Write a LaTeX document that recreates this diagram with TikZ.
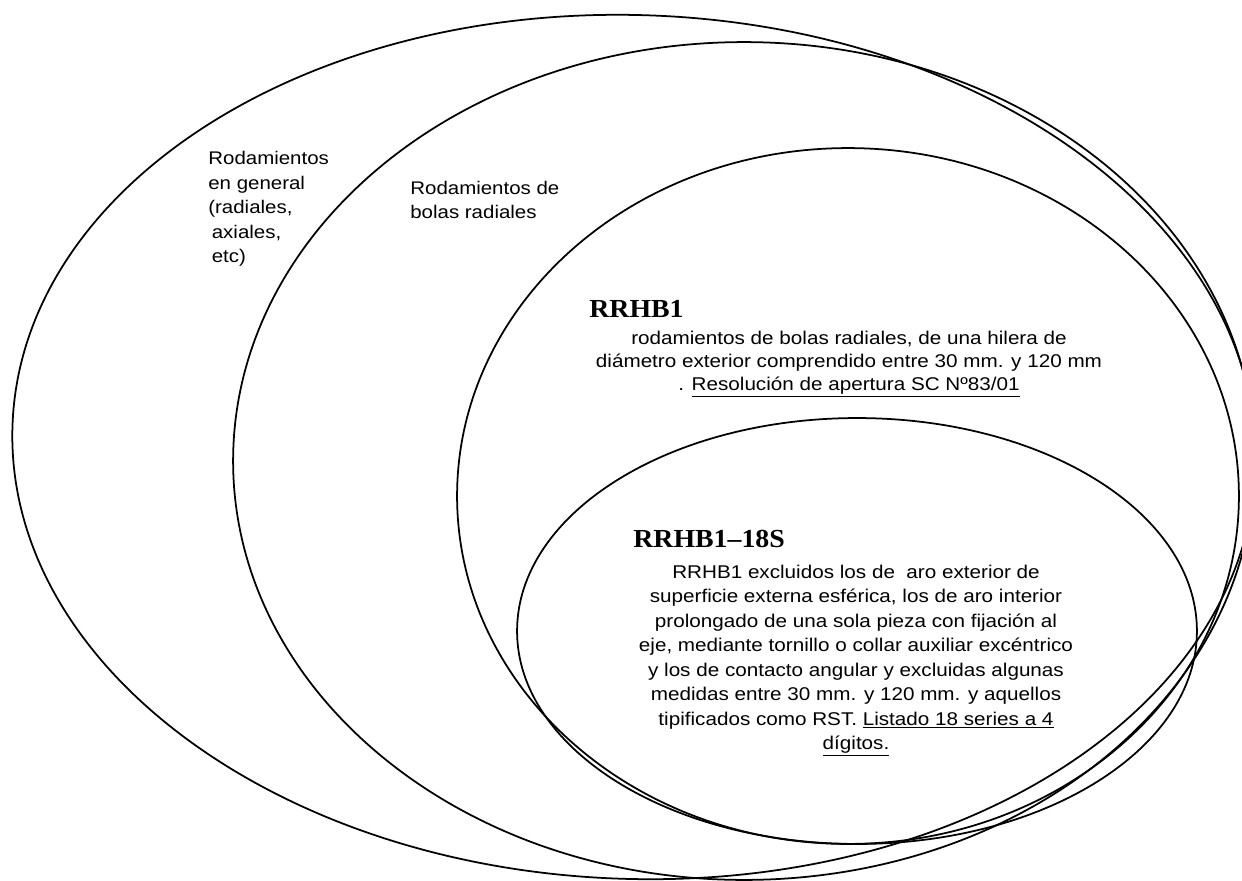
\documentclass[tikz,border=0pt]{standalone}
\usepackage{fontspec}
\setmainfont{Liberation Sans}[FakeStretch=1.12]
\newfontfamily\titlefont{Liberation Serif}[FakeStretch=1.07]
\usetikzlibrary{shapes.geometric}
\begin{document}
\begin{tikzpicture}[x=0.02cm, y=-0.02cm,
  ring/.style={draw, ellipse, line width=1pt, inner sep=0pt, outer sep=0pt},
  body/.style={inner sep=0pt, align=center, font=\fontsize{10.5}{13.9}\selectfont},
  lbl/.style={inner sep=0pt, align=left, anchor=west, font=\fontsize{10.4}{13.9}\selectfont},
  ttl/.style={inner sep=0pt, anchor=west, font=\titlefont\bfseries\fontsize{14.8}{16}\selectfont}]
\useasboundingbox (0,0) rectangle (1242,880);
\fill[white] (0,0) rectangle (1242,880);
\clip (0,0) rectangle (1242,880);
% nested ellipses
\node[ring, rotate=-2, minimum width=24.88cm, minimum height=17.28cm] (e1) at (634,447) {};
\node[ring, minimum width=20.44cm, minimum height=16.76cm] (e2) at (744,461) {};
\node[ring, minimum width=15.64cm, minimum height=13.92cm] (e3) at (848,496) {};
\node[ring, minimum width=13.60cm, minimum height=8.52cm] (e4) at (857,631) {};
% labels
\node[lbl] (l1) at (208,209) {Rodamientos\\en general\\(radiales,\\\hspace{2pt}axiales,\\\hspace{2pt}etc)};
\node[lbl] (l2) at (410,200) {Rodamientos de\\bolas radiales};
\node[ttl] (t1) at (589,309) {RRHB1};
\node[body, font=\fontsize{10.5}{12.9}\selectfont] (b1) at (849,364.5) {rodamientos de bolas radiales, de una hilera de\\
di\'ametro exterior comprendido entre 30 mm. y 120 mm\\
. \underline{Resoluci\'on de apertura SC Nº83/01}};
\node[ttl] (t2) at (633,539) {RRHB1–18S};
\node[body] (b2) at (856,661) {RRHB1 excluidos los de~ aro exterior de\\
superficie externa esf\'erica, los de aro interior\\
prolongado de una sola pieza con fijaci\'on al\\
eje, mediante tornillo o collar auxiliar exc\'entrico\\
y los de contacto angular y excluidas algunas\\
medidas entre 30 mm. y 120 mm. y aquellos\\
tipificados como RST. \underline{Listado 18 series a 4}\\
\underline{d\'igitos.}};
\end{tikzpicture}
\end{document}
